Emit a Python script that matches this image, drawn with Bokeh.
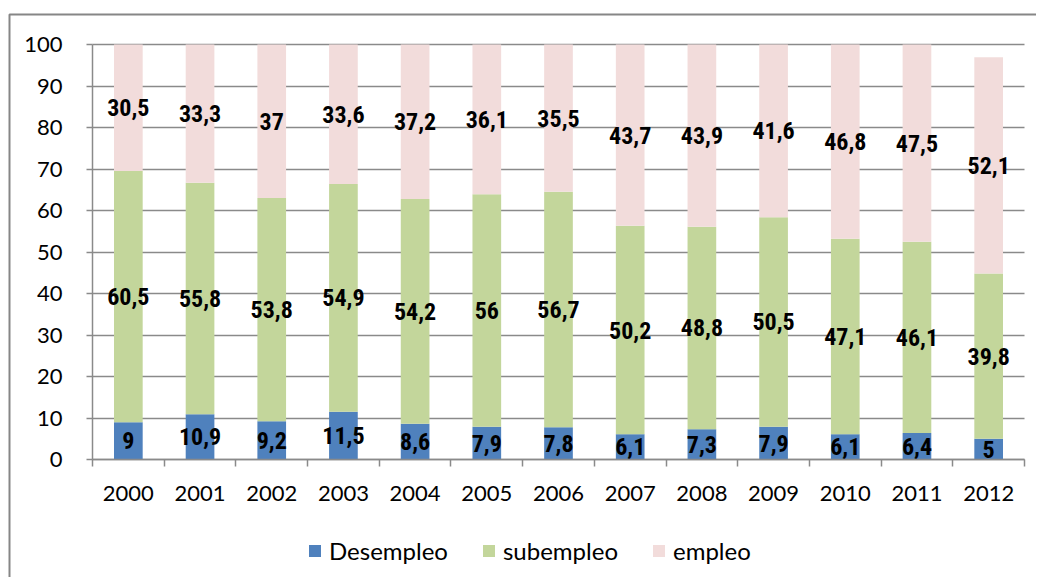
from bokeh.plotting import figure
from bokeh.models import ColumnDataSource, FixedTicker, Legend, LegendItem, Range1d, BoxAnnotation
from bokeh.core.properties import value
from bokeh.embed import file_html
from bokeh.resources import INLINE

years = ["2000", "2001", "2002", "2003", "2004", "2005", "2006",
         "2007", "2008", "2009", "2010", "2011", "2012"]
desempleo = [9, 10.9, 9.2, 11.5, 8.6, 7.9, 7.8, 6.1, 7.3, 7.9, 6.1, 6.4, 5]
subempleo = [60.5, 55.8, 53.8, 54.9, 54.2, 56, 56.7, 50.2, 48.8, 50.5, 47.1, 46.1, 39.8]
empleo = [30.5, 33.3, 37, 33.6, 37.2, 36.1, 35.5, 43.7, 43.9, 41.6, 46.8, 47.5, 52.1]
series_names = ["Desempleo", "subempleo", "empleo"]
colors = ["#4F81BD", "#C3D69B", "#F2DCDB"]
y_ticks = list(range(0, 101, 10))

x = list(range(len(years)))
n = len(years)


def fmt(v):
    return f"{v:g}".replace(".", ",")


d_mid = [d / 2 for d in desempleo]
s_mid = [d + s / 2 for d, s in zip(desempleo, subempleo)]
e_mid = [d + s + e / 2 for d, s, e in zip(desempleo, subempleo, empleo)]

src = ColumnDataSource(dict(
    x=x, desempleo=desempleo, subempleo=subempleo, empleo=empleo,
    d_mid=d_mid, s_mid=s_mid, e_mid=e_mid,
    d_lab=[fmt(v) for v in desempleo],
    s_lab=[fmt(v) for v in subempleo],
    e_lab=[fmt(v) for v in empleo],
))

# ---- layout (pixels): the frame covers the whole canvas, the plot area is inside it
W, H = 1036, 577
PL, PR, PT, PB = 92, 1024, 44, 459          # plot-area edges in pixels
xppu = (PR - PL) / n                        # pixels per category
yppu = (PB - PT) / 100.0                    # pixels per percent
x_start = -0.5 - PL / xppu
x_end = n - 0.5 + (W - PR) / xppu
y_end = 100 + PT / yppu
y_start = -(H - PB) / yppu


def px_x(px):
    return x_start + px / xppu


def px_y(py):
    return y_end - py / yppu


p = figure(width=W, height=H,
           x_range=Range1d(x_start, x_end), y_range=Range1d(y_start, y_end),
           output_backend="svg", toolbar_location=None,
           min_border=0, min_border_left=0, min_border_right=0,
           min_border_top=0, min_border_bottom=0)
p.outline_line_color = None
p.background_fill_color = "white"
p.border_fill_color = "white"

# chart-area border (only left and top edges fall inside the picture)
p.add_layout(BoxAnnotation(left=px_x(9), right=x_end + 5, top=px_y(14), bottom=y_start - 5,
                           fill_alpha=0, line_color="#868686", line_alpha=1.0, line_width=2))

grid_col = "#8a8a8a"

rs = p.vbar_stack(["desempleo", "subempleo", "empleo"], x="x", width=0.4,
                  fill_color=colors, line_color=None, source=src)

label_font = value("'Liberation Sans Narrow', 'Arial Narrow', 'Roboto Condensed', 'DejaVu Sans Condensed', 'Liberation Sans', sans-serif")
for col, lab in [("d_mid", "d_lab"), ("s_mid", "s_lab"), ("e_mid", "e_lab")]:
    p.text(x="x", y=col, text=lab, source=src,
           text_font=label_font, text_font_style="bold",
           text_font_size="24px", text_align="center", text_baseline="middle",
           text_color="black")

# x axis drawn at y = 0
p.xaxis.fixed_location = 0
p.xaxis.bounds = (-0.5, n - 0.5)
p.xaxis.ticker = FixedTicker(ticks=x, minor_ticks=[i - 0.5 for i in range(n + 1)])
p.xaxis.major_label_overrides = {i: y for i, y in enumerate(years)}
p.xaxis.major_tick_line_color = None
p.xaxis.minor_tick_out = 7
p.xaxis.minor_tick_in = 0
p.xaxis.minor_tick_line_color = grid_col
p.xaxis.minor_tick_line_width = 1.5
p.xaxis.axis_line_color = grid_col
p.xaxis.axis_line_width = 1.5
p.xaxis.major_label_text_font = "Lato"
p.xaxis.major_label_text_font_size = "22px"
p.xaxis.major_label_text_color = "black"
p.xaxis.major_label_standoff = 19
p.xgrid.grid_line_color = None

# y axis drawn at the left edge of the plot area
p.yaxis.fixed_location = -0.5
p.yaxis.bounds = (0, 100)
p.yaxis.ticker = FixedTicker(ticks=y_ticks)
p.yaxis.major_tick_out = 6
p.yaxis.major_tick_in = 0
p.yaxis.major_tick_line_color = grid_col
p.yaxis.major_tick_line_width = 1.5
p.yaxis.minor_tick_line_color = None
p.yaxis.axis_line_color = grid_col
p.yaxis.axis_line_width = 1.5
p.yaxis.major_label_text_font = "Lato"
p.yaxis.major_label_text_font_size = "22px"
p.yaxis.major_label_text_color = "black"
p.yaxis.major_label_standoff = 24
p.ygrid.grid_line_color = grid_col
p.ygrid.grid_line_width = 1.5
p.ygrid.bounds = (0, 100)
p.ygrid.cross_bounds = (-0.5, n - 0.5)

legend = Legend(items=[LegendItem(label=nm, renderers=[r]) for nm, r in zip(series_names, rs)],
                orientation="horizontal", location=(307, 12))
legend.glyph_width = 15
legend.glyph_height = 15
legend.label_text_font = "Lato"
legend.label_text_font_size = "24px"
legend.label_text_color = "black"
legend.label_standoff = 7
legend.spacing = 33
legend.border_line_color = None
legend.background_fill_alpha = 0
legend.margin = 0
legend.padding = 0
p.add_layout(legend, "center")

open("out.html", "w").write(file_html(p, INLINE))
